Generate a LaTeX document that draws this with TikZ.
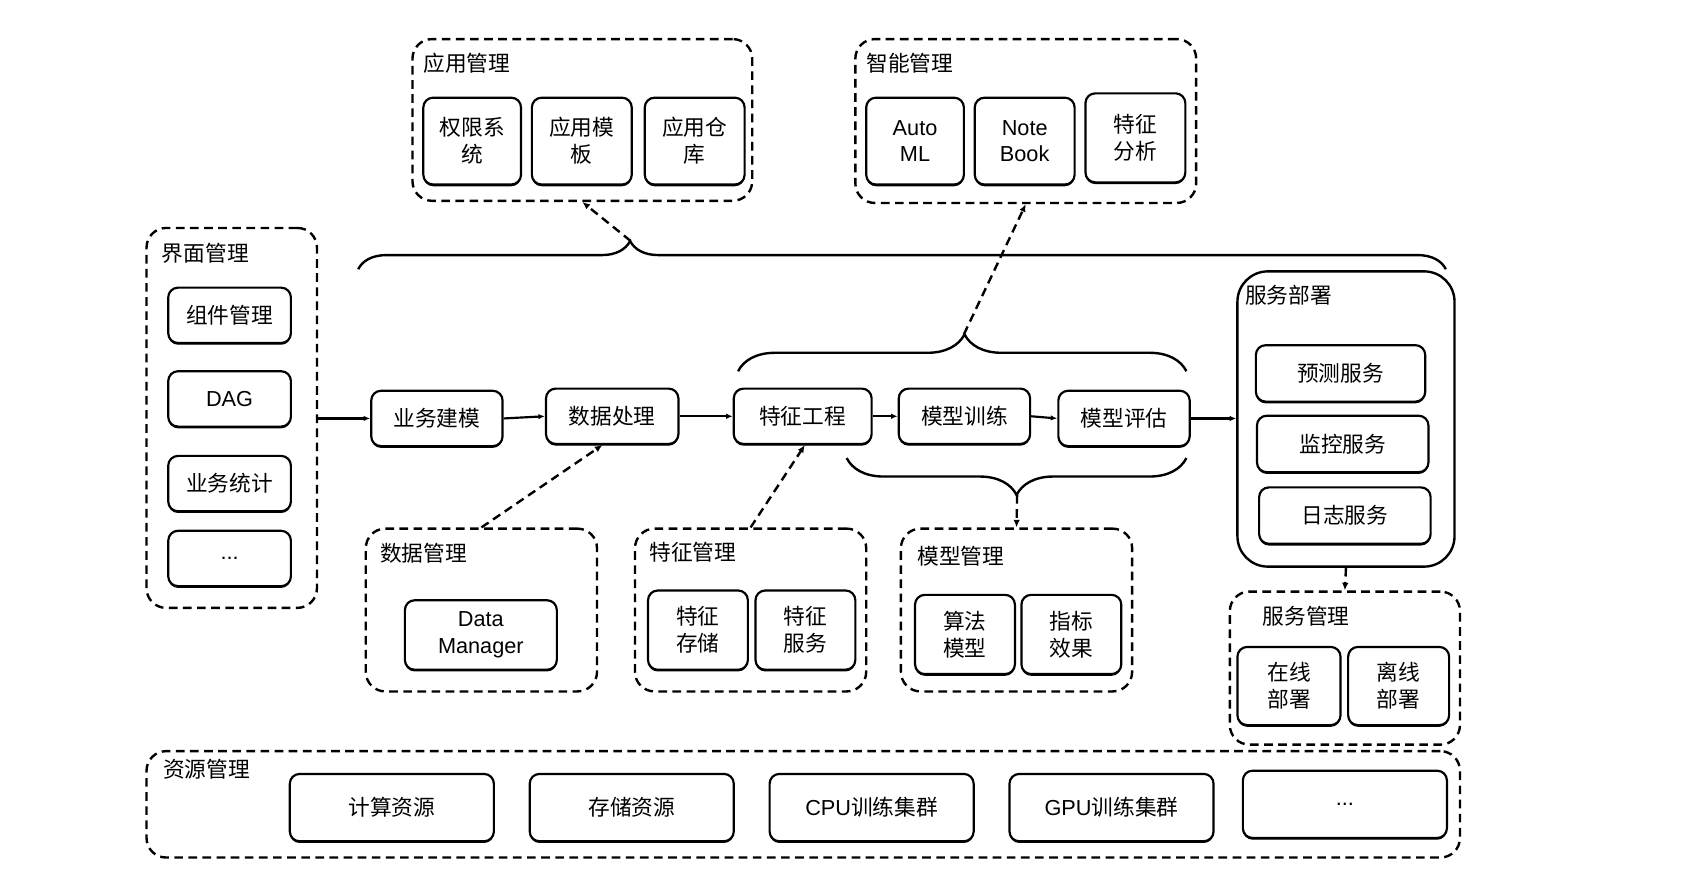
\documentclass[tikz,border=0pt]{standalone}
\usepackage{fontspec}
\setmainfont{Liberation Sans}
\newfontfamily\cjk{Noto Sans CJK SC}
\newfontfamily\lat{Liberation Sans}
\usetikzlibrary{arrows.meta,decorations.pathreplacing,shadows}
\begin{document}
\begin{tikzpicture}[x=1pt,y=-1pt,
  box/.style={draw, line width=2pt, rounded corners=9pt, fill=white, align=center, inner sep=0pt,
    font=\cjk\fontsize{20}{25}\selectfont,
    drop shadow={shadow xshift=0pt, shadow yshift=-1.6pt, fill=black, opacity=1}},
  sz/.style 2 args={minimum width=#1, minimum height=#2},
  grp/.style={draw, line width=2.2pt, dash pattern=on 8pt off 5pt, rounded corners=18pt, inner sep=0pt},
  ttl/.style={anchor=west, inner sep=0pt, font=\cjk\fontsize{20}{24}\selectfont},
  arr/.style={line width=2pt, -{Latex[length=6pt,width=5pt]}},
  dline/.style={line width=2.2pt, dash pattern=on 8pt off 5pt, -{Latex[length=7pt,width=6pt]}},
  brc/.style={line width=2.2pt, decorate}]
\useasboundingbox (0,0) rectangle (1568,800);

% 应用管理
\node[grp, sz={313}{149}] (ag) at (536.5,110.5) {};
\node[ttl] (agt) at (390,58) {应用管理};
\node[box, sz={90}{80}] (a1) at (435,130) {权限系\\统};
\node[box, sz={92}{80}] (a2) at (536,130) {应用模\\板};
\node[box, sz={92}{80}] (a3) at (640,130) {应用仓\\库};

% 智能管理
\node[grp, sz={314}{151}] (ig) at (945,111.5) {};
\node[ttl] (igt) at (798,58) {智能管理};
\node[box, sz={90}{80}, font=\lat\fontsize{20}{24}\selectfont] (i1) at (843,130) {Auto\\ML};
\node[box, sz={92}{80}, font=\lat\fontsize{20}{24}\selectfont] (i2) at (944,130) {Note\\Book};
\node[box, sz={92}{82}] (i3) at (1046,127) {特征\\分析};

% 界面管理
\node[grp, sz={157}{350}] (jg) at (213.5,385) {};
\node[ttl] (jgt) at (149,233) {界面管理};
\node[box, sz={113}{51}] (j1) at (211.5,290.5) {组件管理};
\node[box, sz={113}{51}, font=\lat\fontsize{20}{24}\selectfont] (j2) at (211.5,367.5) {DAG};
\node[box, sz={113}{51}] (j3) at (211.5,445.5) {业务统计};
\node[box, sz={113}{51}, font=\lat\fontsize{20}{24}\selectfont] (j4) at (211.5,514.5) {...};

% main flow
\node[box, sz={121}{51}] (f1) at (402.5,385.5) {业务建模};
\node[box, sz={122}{51}] (f2) at (564,383.5) {数据处理};
\node[box, sz={127}{51}] (f3) at (739.5,383.5) {特征工程};
\node[box, sz={121}{51}] (f4) at (888.5,383.5) {模型训练};
\node[box, sz={121}{51}] (f5) at (1035.5,385.5) {模型评估};

% 服务部署
\node[draw, line width=2.2pt, rounded corners=28pt, sz={200}{272}] (sg) at (1240,386) {};
\node[ttl] (sgt) at (1147,272) {服务部署};
\node[box, sz={156}{52}] (s1) at (1235,344) {预测服务};
\node[box, sz={158}{52}] (s2) at (1237,409) {监控服务};
\node[box, sz={158}{52}] (s3) at (1239,475) {日志服务};

% 服务管理
\node[grp, sz={212}{141}] (mg) at (1239,615.5) {};
\node[ttl] (mgt) at (1163,568) {服务管理};
\node[box, sz={95}{72}] (m1) at (1187.5,632) {在线\\部署};
\node[box, sz={93}{72}] (m2) at (1288.5,632) {离线\\部署};

% 数据管理
\node[grp, sz={213}{150}] (dg) at (443.5,562) {};
\node[ttl] (dgt) at (350,510) {数据管理};
\node[box, sz={140}{64}, font=\lat\fontsize{20}{25}\selectfont] (d1) at (443,585) {Data\\Manager};

% 特征管理
\node[grp, sz={213}{150}] (tg) at (691.5,562) {};
\node[ttl] (tgt) at (598,509) {特征管理};
\node[box, sz={92}{73}] (t1) at (643,580.5) {特征\\存储};
\node[box, sz={92}{73}] (t2) at (742,580.5) {特征\\服务};

% 模型管理
\node[grp, sz={213}{150}] (og) at (936.5,562) {};
\node[ttl] (ogt) at (845,512) {模型管理};
\node[box, sz={92}{73}] (o1) at (889,584.5) {算法\\模型};
\node[box, sz={92}{73}] (o2) at (987,584.5) {指标\\效果};

% 资源管理
\node[grp, sz={1210}{98}] (rg) at (740,741) {};
\node[ttl] (rgt) at (150,709) {资源管理};
\node[box, sz={188}{62}] (r1) at (361,744) {计算资源};
\node[box, sz={188}{62}] (r2) at (582,744) {存储资源};
\node[box, sz={188}{62}] (r3) at (803,744) {{\lat CPU}训练集群};
\node[box, sz={188}{62}] (r4) at (1024,744) {{\lat GPU}训练集群};
\node[box, sz={188}{62}, font=\lat\fontsize{20}{24}\selectfont] (r5) at (1239,741) {...};

% flow arrows
\draw[arr] (jg.east |- f1.west) -- (f1.west);
\draw[arr] (f1.east) -- (f2.west);
\draw[arr] (f2.east) -- (f3.west);
\draw[arr] (f3.east) -- (f4.west);
\draw[arr] (f4.east) -- (f5.west);
\draw[arr] (f5.east) -- (sg.west |- f5.east);

% braces
\draw[brc, decoration={brace, amplitude=26pt, aspect=0.25}] (330,248) -- (1332,248);
\coordinate (tbt) at (581,222);
\draw[brc, decoration={brace, amplitude=34pt, aspect=0.505}] (680,342) -- (1093,342);
\coordinate (mbt) at (888,308);
\draw[brc, decoration={brace, amplitude=34pt, aspect=0.5}] (1093,422) -- (780,422);
\coordinate (bbt) at (937,456);

% dashed connectors
\draw[dline] (tbt) -- (ag.south);
\draw[dline] (mbt) -- (ig.south);
\draw[dline] (bbt) -- (og.north);
\draw[dline] (dg.north) -- ([xshift=-9pt]f2.south);
\draw[dline] (tg.north) -- ([xshift=2pt]f3.south);
\draw[dline] (sg.south) -- (mg.north);
\end{tikzpicture}
\end{document}
